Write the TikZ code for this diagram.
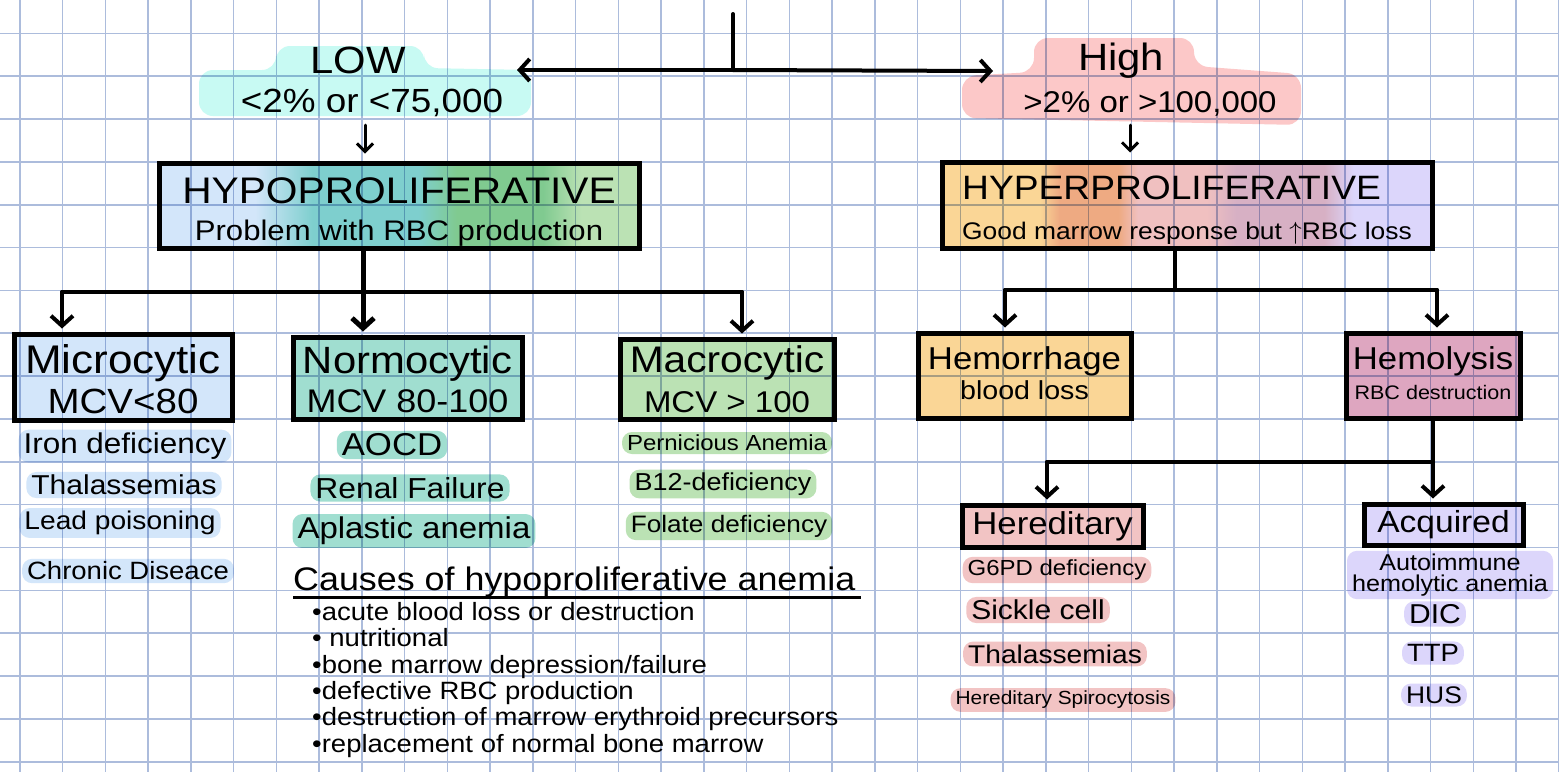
\documentclass[tikz,border=0pt]{standalone}
\usepackage{fontspec}
\setmainfont{Liberation Sans}[FakeStretch=1.1]
\usetikzlibrary{arrows.meta}
\newcommand\fsz[2]{\fontsize{#1}{#2}\selectfont}
\definecolor{gridline}{RGB}{172,188,220}
\definecolor{lowcyan}{RGB}{200,250,243}
\definecolor{highpink}{RGB}{252,200,200}
\definecolor{microblue}{RGB}{211,230,250}
\definecolor{normoteal}{RGB}{160,222,208}
\definecolor{macrogreen}{RGB}{187,226,180}
\definecolor{hypoteal}{RGB}{126,207,206}
\definecolor{hypogreen}{RGB}{128,202,144}
\definecolor{hemoorange}{RGB}{250,214,150}
\definecolor{lysismauve}{RGB}{222,166,192}
\definecolor{heredpink}{RGB}{242,196,196}
\definecolor{acqlilac}{RGB}{220,214,251}
\definecolor{hyperorange}{RGB}{238,170,130}
\definecolor{hyperpink}{RGB}{240,192,192}
\definecolor{hypermauve}{RGB}{215,176,196}
\pgfdeclarehorizontalshading{hypofill}{100bp}{color(0bp)=(microblue); color(35bp)=(microblue); color(41bp)=(hypoteal); color(52bp)=(hypoteal); color(56bp)=(hypogreen); color(65bp)=(hypogreen); color(69bp)=(macrogreen); color(100bp)=(macrogreen)}
\pgfdeclarehorizontalshading{hyperfill}{100bp}{color(0bp)=(hemoorange); color(35bp)=(hemoorange); color(37bp)=(hyperorange); color(43bp)=(hyperorange); color(45bp)=(hyperpink); color(52bp)=(hyperpink); color(55bp)=(hypermauve); color(64bp)=(hypermauve); color(67bp)=(acqlilac); color(100bp)=(acqlilac)}
\tikzset{
	gridln/.style={draw=gridline, line width=1.6pt},
	wire/.style={line width=4pt, line cap=round, line join=round},
	thinwire/.style={line width=3pt, line cap=round, line join=round},
	barb/.style={-{Straight Barb[length=10pt, width=22pt]}, shorten >=3pt},
	smallbarb/.style={-{Straight Barb[length=8pt, width=16pt]}, shorten >=7pt},
	cellbox/.style={draw, line width=5pt, inner sep=0pt, align=center},
	twoline/.style={text height=#1, text depth=0pt},
	hilite/.style={rounded corners=10pt, inner xsep=5pt, inner ysep=3pt},
}
\begin{document}
\begin{tikzpicture}[x=1pt, y=-1pt]
	\useasboundingbox (0,0) rectangle (1559,772);
	\fill [white] (0,0) rectangle (1559,772);
	\foreach \gx in {0,...,36}
		\draw [gridln] ({19.9+42.75*\gx},0) -- ({19.9+42.75*\gx},772);
	\foreach \gy in {0,...,17}
		\draw [gridln] (0,{33.3+42.85*\gy}) -- (1559,{33.3+42.85*\gy});
	\begin{scope}[blend mode=multiply]
	\fill [lowcyan, rounded corners=14pt] (276,46) -- (424,46) -- (424,68) -- (531,70) -- (531,116) -- (199,116) -- (199,70) -- (276,70) -- cycle;
	\fill [highpink, rounded corners=14pt] (1034,38) -- (1194,38) -- (1194,66) -- (1301,74) -- (1301,125) -- (962,118) -- (962,76) -- (1034,72) -- cycle;
	\node [font=\fsz{38}{38}] (low) at (358,60) {LOW};
	\node [font=\fsz{33.5}{34}] (lowval) at (372,103) {<2\% or <75,000};
	\node [font=\fsz{38}{38}] (high) at (1121,61) {High};
	\node [font=\fsz{30}{30}] (highval) at (1150,104) {>2\% or >100,000};
	\node [cellbox, twoline=69pt, shading=hypofill, minimum width=480pt, minimum height=85pt, font=\fsz{37}{37}] (hypo) at (399,205.5) {HYPOPROLIFERATIVE\\{\fsz{28.3}{37}Problem with RBC production}};
	\node [cellbox, twoline=68pt, shading=hyperfill, minimum width=490pt, minimum height=86pt, align=left, font=\fsz{33.8}{40}] (hyper) at (1187,205) {HYPERPROLIFERATIVE\\{\fsz{24}{40}Good marrow response but $\uparrow$RBC loss}};
	\node [cellbox, twoline=72pt, fill=microblue, minimum width=218pt, minimum height=86pt, font=\fsz{40}{40}] (micro) at (123,377) {Microcytic\\{\fsz{35}{40}MCV<80}};
	\node [cellbox, twoline=68pt, fill=normoteal, minimum width=229pt, minimum height=82pt, font=\fsz{38}{39}] (normo) at (407.5,378) {Normocytic\\{\fsz{32.7}{39}MCV 80-100}};
	\node [cellbox, twoline=67.4pt, fill=macrogreen, minimum width=214pt, minimum height=80pt, font=\fsz{37}{40}] (macro) at (727,379) {Macrocytic\\{\fsz{30}{40}MCV > 100}};
	\node [cellbox, twoline=47pt, fill=hemoorange, minimum width=213pt, minimum height=85pt, font=\fsz{31.6}{30}] (hemor) at (1024.5,375.5) {Hemorrhage\\{\fsz{26}{30}blood loss}};
	\node [cellbox, twoline=47pt, fill=lysismauve, minimum width=174pt, minimum height=85pt, font=\fsz{31.6}{30}] (hemol) at (1433,375.5) {Hemolysis\\{\fsz{19.6}{30}RBC destruction}};
	\node [cellbox, fill=heredpink, minimum width=181pt, minimum height=42pt, font=\fsz{31.6}{32}] (hered) at (1052.5,526) {Hereditary};
	\node [cellbox, fill=acqlilac, minimum width=159pt, minimum height=41pt, font=\fsz{30.5}{31}] (acq) at (1443.5,524.5) {Acquired};
	\coordinate (root) at (733,14);
	\coordinate (fork) at (733,70);
	\coordinate (lowtip) at (517,70);
	\coordinate (hightip) at (993,71);
	\draw [wire] (root) -- (fork);
	\draw [wire, barb, shorten >=0pt] (fork) -- (lowtip);
	\draw [wire, barb, shorten >=0pt] (fork) -- (hightip);
	\coordinate (lowdrop) at (365,125);
	\coordinate (highdrop) at (1130,125);
	\draw [thinwire, smallbarb] (lowdrop) -- (lowdrop |- hypo.north);
	\draw [thinwire, smallbarb] (highdrop) -- (highdrop |- hyper.north);
	\coordinate (hypostem) at (363,292);
	\coordinate (microdrop) at (62,292);
	\coordinate (macrodrop) at (742,292);
	\draw [wire] (microdrop) -- (macrodrop);
	\draw [wire, line width=5pt, barb] (hypostem |- hypo.south) -- (hypostem |- normo.north);
	\draw [wire, barb] (microdrop) -- (microdrop |- micro.north);
	\draw [wire, barb] (macrodrop) -- (macrodrop |- macro.north);
	\coordinate (hyperstem) at (1175,290);
	\coordinate (hemordrop) at (1005,290);
	\coordinate (hemoldrop) at (1437,290);
	\draw [wire] (hyperstem |- hyper.south) -- (hyperstem);
	\draw [wire] (hemordrop) -- (hemoldrop);
	\draw [wire, barb] (hemordrop) -- (hemordrop |- hemor.north);
	\draw [wire, barb] (hemoldrop) -- (hemoldrop |- hemol.north);
	\coordinate (lysisstem) at (1433,462);
	\coordinate (hereddrop) at (1047,462);
	\draw [wire, barb] (lysisstem |- hemol.south) -- (lysisstem |- acq.north);
	\draw [wire] (lysisstem) -- (hereddrop);
	\draw [wire, barb] (hereddrop) -- (hereddrop |- hered.north);
	\node [hilite, fill=microblue, font=\fsz{28.6}{29}] (iron) at (125,446) {Iron deficiency};
	\node [hilite, fill=microblue, font=\fsz{27.3}{28}] (thalmicro) at (124,485) {Thalassemias};
	\node [hilite, fill=microblue, font=\fsz{25.6}{26}] (lead) at (120,523) {Lead poisoning};
	\node [hilite, fill=microblue, font=\fsz{25}{25}] (chronic) at (128,571) {Chronic Diseace};
	\node [hilite, fill=normoteal, font=\fsz{31.6}{32}] (aocd) at (392,445) {AOCD};
	\node [hilite, fill=normoteal, font=\fsz{28.9}{29}] (renal) at (410,488) {Renal Failure};
	\node [hilite, fill=normoteal, font=\fsz{30}{30}] (aplastic) at (414,531) {Aplastic anemia};
	\node [hilite, fill=macrogreen, font=\fsz{21.8}{22}] (pernicious) at (727,443) {Pernicious Anemia};
	\node [hilite, fill=macrogreen, font=\fsz{24.5}{25}] (bdef) at (723,484) {B12-deficiency};
	\node [hilite, fill=macrogreen, font=\fsz{23.8}{24}] (folate) at (729,526) {Folate deficiency};
	\node [hilite, fill=heredpink, font=\fsz{21.8}{22}] (gpd) at (1057,570) {G6PD deficiency};
	\node [hilite, fill=heredpink, font=\fsz{27.3}{28}] (sickle) at (1038,610) {Sickle cell};
	\node [hilite, fill=heredpink, font=\fsz{25.6}{26}] (thalhered) at (1055,654) {Thalassemias};
	\node [hilite, fill=heredpink, font=\fsz{19}{19}] (spiro) at (1063,700) {Hereditary Spirocytosis};
	\node [hilite, fill=acqlilac, align=center, font=\fsz{22.9}{21}] (autoimmune) at (1450,575) {Autoimmune\\hemolytic anemia};
	\node [hilite, fill=acqlilac, font=\fsz{27.3}{28}] (dic) at (1435,614) {DIC};
	\node [hilite, fill=acqlilac, font=\fsz{25}{25}] (ttp) at (1433,653) {TTP};
	\node [hilite, fill=acqlilac, font=\fsz{24}{24}] (hus) at (1434,695) {HUS};
	\node [anchor=base west, inner sep=0pt, font=\fsz{32.6}{33}] (causes) at (293,590) {Causes of hypoproliferative anemia};
	\draw [line width=3pt] ([yshift=-7pt]causes.base west) -- ([yshift=-7pt, xshift=5pt]causes.base east);
	\node [anchor=north west, align=left, inner sep=0pt, font=\fsz{25}{26.4}] (causelist) at (312,602) {•acute blood loss or destruction\\• nutritional\\•bone marrow depression/failure\\•defective RBC production\\•destruction of marrow erythroid precursors\\•replacement of normal bone marrow};
	\end{scope}
\end{tikzpicture}
\end{document}
